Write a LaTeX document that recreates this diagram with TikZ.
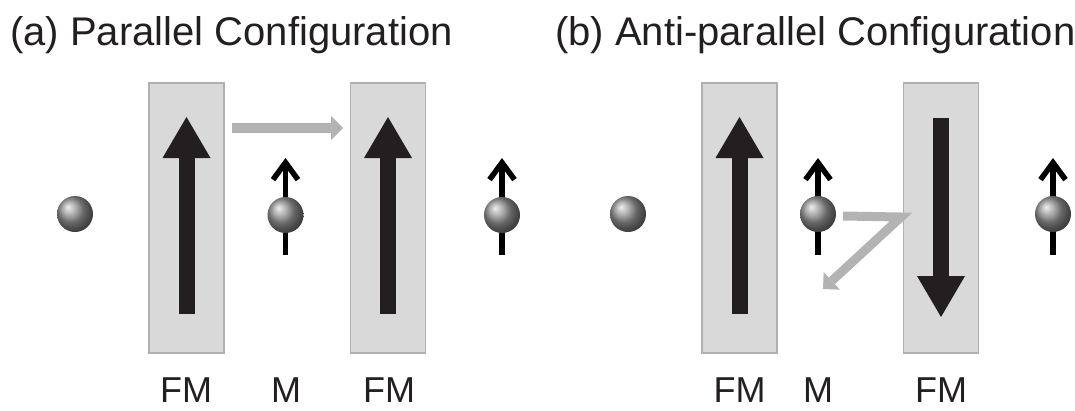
\documentclass[tikz,border=0pt]{standalone}
\usepackage{fontspec}
\setmainfont{Liberation Sans}
\usetikzlibrary{arrows.meta}
\definecolor{boxfill}{HTML}{D9D9D9}
\definecolor{boxline}{HTML}{B0B0B0}
\definecolor{ink}{HTML}{231F20}
\definecolor{flow}{HTML}{B3B3B3}
\begin{document}
\begin{tikzpicture}[x=1pt,y=-1pt,
  layerbox/.style={draw=boxline,fill=boxfill,line width=1.5pt,minimum width=75pt,minimum height=270pt,inner sep=0pt},
  magnet/.style={draw=ink,line width=16pt,-{Triangle[length=41pt,width=48pt,line width=0pt]}},
  spin/.style={draw=black,line width=5.5pt,-{Straight Barb[length=17pt,width=25pt]}},
  electron/.style={circle,minimum size=36pt,inner sep=0pt,shading=ball,ball color=black!42},
  flowarrow/.style={draw=flow,line width=10pt,-{Triangle[length=12pt,width=24pt,line width=0pt]}},
  titletext/.style={font=\fontsize{40}{48}\selectfont,text=ink,anchor=base west,inner sep=0pt},
  labeltext/.style={font=\fontsize{36}{43}\selectfont,text=ink,anchor=base,inner sep=0pt}
]
\useasboundingbox (0,0) rectangle (1075,410);

% titles
\node[titletext] (ta) at (10,45) {(a) Parallel Configuration};
\node[titletext] (tb) at (555,45) {(b) Anti-parallel Configuration};

% FM layers
\node[layerbox] (a1) at (186.5,218) {};
\node[layerbox] (a2) at (388,218) {};
\node[layerbox] (b1) at (739.5,218) {};
\node[layerbox] (b2) at (941,218) {};

% magnetisation arrows
\coordinate (a1s) at (186.5,314); \coordinate (a1t) at (186.5,117);
\coordinate (a2s) at (388,314);   \coordinate (a2t) at (388,117);
\coordinate (b1s) at (739.5,314); \coordinate (b1t) at (739.5,117);
\coordinate (b2s) at (941,118);   \coordinate (b2t) at (941,317);
\draw[magnet] (a1s) -- (a1t);
\draw[magnet] (a2s) -- (a2t);
\draw[magnet] (b1s) -- (b1t);
\draw[magnet] (b2s) -- (b2t);

% spin arrows (behind the electrons)
\foreach \n/\x in {sa/285.5,sb/502,sc/818,sd/1053}{
  \coordinate (\n b) at (\x,255);
  \coordinate (\n t) at (\x,158);
  \draw[spin] (\n b) -- (\n t);
}

% electrons
\node[electron] (e0) at (75,214) {};
\node[electron] (e1) at (285.5,215) {};
\node[electron] (e2) at (502,215) {};
\node[electron] (e3) at (628,214) {};
\node[electron] (e4) at (818,214) {};
\node[electron] (e5) at (1053,214) {};

% electron paths
\coordinate (fa0) at (232,128); \coordinate (fa1) at (343,128);
\draw[flowarrow] (fa0) -- (fa1);
\coordinate (fb0) at (843,216); \coordinate (fb1) at (901,217); \coordinate (fb2) at (823,289);
\draw[flowarrow,line width=9pt] (fb0) -- (fb1) -- (fb2);

% labels
\node[labeltext] (l1) at (186,402) {FM};
\node[labeltext] (l2) at (286,402) {M};
\node[labeltext] (l3) at (389,402) {FM};
\node[labeltext] (l4) at (739.5,402) {FM};
\node[labeltext] (l5) at (818,402) {M};
\node[labeltext] (l6) at (941,402) {FM};
\end{tikzpicture}
\end{document}
